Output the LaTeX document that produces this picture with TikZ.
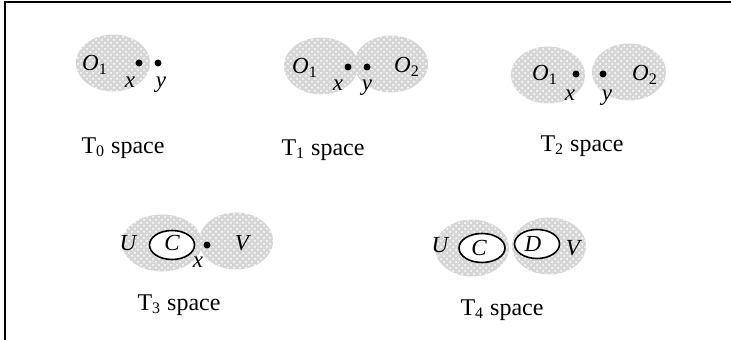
\documentclass[tikz,border=0pt]{standalone}
\usepackage{fontspec}
\setmainfont{Liberation Serif}
\usepackage{tikz}
\usetikzlibrary{positioning,shapes.geometric,patterns}

\newcommand{\sub}[2]{\textit{#1}\textsubscript{#2}}

\begin{document}
\begin{tikzpicture}[
    x=0.5pt, y=-0.5pt,
    every node/.style={font=\fontsize{11.5}{13}\selectfont},
    nbhd/.style={ellipse, inner sep=0pt, minimum width=37pt, minimum height=28.5pt,
                 fill=gray!32, postaction={pattern=crosshatch dots, pattern color=white}},
    cset/.style={ellipse, draw, thick, fill=white, inner sep=0pt,
                 minimum width=22.5pt, minimum height=14.5pt},
    pnt/.style={circle, fill, inner sep=0pt, minimum size=3.5pt},
    lbl/.style={font=\fontsize{11.5}{13}\selectfont\itshape},
    caption/.style={font=\fontsize{12}{14}\selectfont}
]
\useasboundingbox (0,0) rectangle (731,340);
\draw[line width=0.9pt] (5,340) -- (5,2) -- (731,2);

% T0
\node[nbhd] (t0o1) at (113,63) {};
\node at (95,65) (t0l1) {\sub{O}{1}};
\node[pnt] (t0x) at (139,63) {};
\node[pnt] (t0y) at (158,63) {};
\node[lbl] (t0lx) at (130,82) {x};
\node[lbl] (t0ly) at (161,85) {y};
\node[caption] (t0) at (123,148) {T\textsubscript{0} space};

% T1
\node[nbhd] (t1o1) at (321,66) {};
\node[nbhd] (t1o2) at (391,64) {};
\node (t1l1) at (305,68) {\sub{O}{1}};
\node (t1l2) at (407,67) {\sub{O}{2}};
\node[pnt] (t1x) at (348,67) {};
\node[pnt] (t1y) at (367,67) {};
\node[lbl] (t1lx) at (338,85) {x};
\node[lbl] (t1ly) at (367,88) {y};
\node[caption] (t1) at (323,150) {T\textsubscript{1} space};

% T2
\node[nbhd] (t2o1) at (548,75) {};
\node[nbhd] (t2o2) at (629,72) {};
\node (t2l1) at (545,75) {\sub{O}{1}};
\node (t2l2) at (645,75) {\sub{O}{2}};
\node[pnt] (t2x) at (576,74) {};
\node[pnt] (t2y) at (603,74) {};
\node[lbl] (t2lx) at (570,95) {x};
\node[lbl] (t2ly) at (607,98) {y};
\node[caption] (t2) at (582,146) {T\textsubscript{2} space};

% T3
\node[nbhd, minimum width=40pt] (t3u) at (162,243) {};
\node[nbhd] (t3v) at (236,241) {};
\node[cset] (t3c) at (172,245) {};
\node[lbl] (t3lc) at (172,243) {C};
\node[lbl] (t3lu) at (128,243) {U};
\node[lbl] (t3lv) at (242,243) {V};
\node[pnt] (t3x) at (207,245) {};
\node[lbl] (t3lx) at (198,262) {x};
\node[caption] (t3) at (179,305) {T\textsubscript{3} space};

% T4
\node[nbhd] (t4u) at (472,248) {};
\node[nbhd] (t4v) at (549,246) {};
\node[cset, minimum width=23pt] (t4c) at (482,248) {};
\node[cset] (t4d) at (537,244) {};
\node[lbl] (t4lc) at (479,248) {C};
\node[lbl] (t4ld) at (533,244) {D};
\node[lbl] (t4lu) at (440,245) {U};
\node[lbl] (t4lv) at (573,248) {V};
\node[caption] (t4) at (502,310) {T\textsubscript{4} space};
\end{tikzpicture}
\end{document}
